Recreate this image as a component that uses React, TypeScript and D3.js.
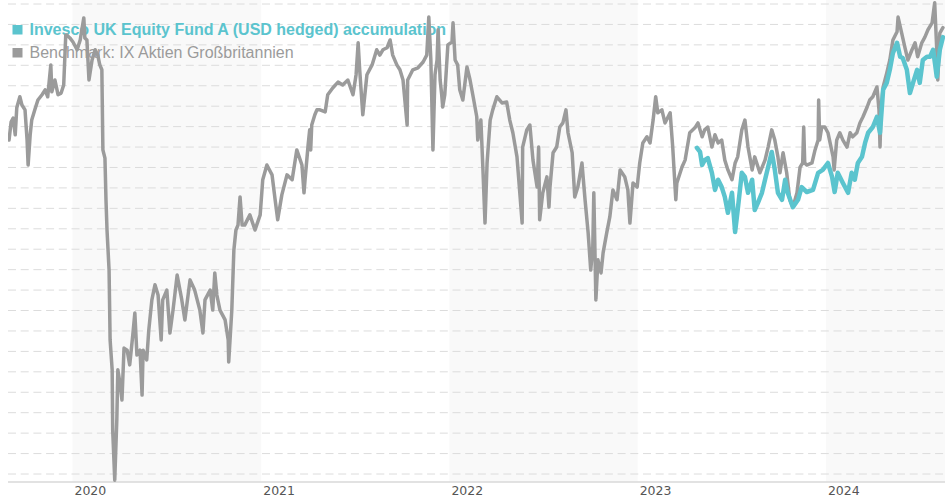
import React from "react";
import * as d3 from "d3";

const FUND_NAME = "Invesco UK Equity Fund A (USD hedged) accumulation";
const BENCH_NAME = "Benchmark: IX Aktien Großbritannien";
const yearLabels = ["2020", "2021", "2022", "2023", "2024"];
const shadedYears = ["2020", "2022", "2024"];
const gridValues = d3.range(0, 116, 5);
const dateDomain = ["2019-08-29", "2024-08-19"];

const benchmarkSeries: [string, number][] = [
  ["2019-08-31", 81.7], ["2019-09-04", 86.1], ["2019-09-08", 87.1], ["2019-09-12", 83.0],
  ["2019-09-15", 89.6], ["2019-09-21", 92.3], ["2019-09-25", 90.3], ["2019-10-01", 89.1],
  ["2019-10-05", 81.7], ["2019-10-07", 75.6], ["2019-10-11", 83.0], ["2019-10-14", 86.6],
  ["2019-10-20", 89.1], ["2019-10-26", 91.5], ["2019-11-03", 92.8], ["2019-11-09", 94.0],
  ["2019-11-14", 92.3], ["2019-11-20", 100.1], ["2019-11-22", 93.5], ["2019-11-28", 96.4],
  ["2019-12-04", 92.8], ["2019-12-10", 93.2], ["2019-12-15", 95.2], ["2019-12-19", 107.4],
  ["2019-12-21", 107.4], ["2019-12-27", 106.7], ["2020-01-02", 105.7], ["2020-01-10", 103.8],
  ["2020-01-16", 106.2], ["2020-01-23", 111.6], ["2020-01-25", 106.7], ["2020-01-29", 106.2],
  ["2020-02-02", 96.4], ["2020-02-08", 101.3], ["2020-02-14", 103.8], ["2020-02-19", 102.5],
  ["2020-02-23", 100.1], ["2020-02-27", 98.9], ["2020-02-29", 79.3], ["2020-03-04", 77.3],
  ["2020-03-06", 67.1], ["2020-03-08", 59.7], ["2020-03-12", 49.9], ["2020-03-14", 32.8],
  ["2020-03-18", 25.5], ["2020-03-19", 10.8], ["2020-03-23", -1.5], ["2020-03-27", 13.2],
  ["2020-03-29", 25.5], ["2020-04-02", 22.3], ["2020-04-06", 18.1], ["2020-04-10", 30.8],
  ["2020-04-16", 30.3], ["2020-04-21", 26.7], ["2020-04-27", 34.0], ["2020-05-01", 39.4],
  ["2020-05-05", 29.1], ["2020-05-11", 30.3], ["2020-05-15", 19.3], ["2020-05-17", 30.3],
  ["2020-05-24", 27.9], ["2020-05-28", 35.2], ["2020-06-03", 42.6], ["2020-06-09", 46.3],
  ["2020-06-15", 43.8], ["2020-06-21", 32.8], ["2020-06-24", 42.6], ["2020-07-02", 45.0],
  ["2020-07-08", 34.5], ["2020-07-14", 40.1], ["2020-07-22", 48.7], ["2020-07-31", 42.6],
  ["2020-08-06", 37.7], ["2020-08-16", 47.5], ["2020-08-25", 45.0], ["2020-09-04", 40.1],
  ["2020-09-10", 34.5], ["2020-09-14", 42.6], ["2020-09-24", 45.0], ["2020-09-29", 40.1],
  ["2020-10-03", 49.2], ["2020-10-07", 43.8], ["2020-10-13", 40.1], ["2020-10-23", 37.7],
  ["2020-10-29", 32.8], ["2020-10-30", 27.4], ["2020-11-05", 40.1], ["2020-11-09", 54.8],
  ["2020-11-13", 59.7], ["2020-11-17", 60.9], ["2020-11-21", 67.8], ["2020-11-25", 60.9],
  ["2020-11-30", 60.9], ["2020-12-10", 63.4], ["2020-12-20", 59.7], ["2020-12-30", 63.4],
  ["2021-01-04", 72.0], ["2021-01-12", 75.6], ["2021-01-22", 73.2], ["2021-01-28", 67.1],
  ["2021-02-02", 62.2], ["2021-02-10", 68.3], ["2021-02-20", 73.2], ["2021-03-02", 72.0],
  ["2021-03-11", 79.3], ["2021-03-21", 75.6], ["2021-03-25", 68.8], ["2021-03-27", 72.0],
  ["2021-04-02", 80.5], ["2021-04-05", 84.2], ["2021-04-07", 79.3], ["2021-04-09", 85.4],
  ["2021-04-15", 87.9], ["2021-04-19", 89.1], ["2021-04-25", 89.1], ["2021-05-05", 88.6],
  ["2021-05-10", 92.8], ["2021-05-20", 94.5], ["2021-05-30", 95.9], ["2021-06-08", 95.2],
  ["2021-06-18", 96.4], ["2021-06-28", 92.8], ["2021-07-04", 97.7], ["2021-07-08", 105.5],
  ["2021-07-11", 98.9], ["2021-07-17", 87.9], ["2021-07-25", 97.7], ["2021-08-04", 100.1],
  ["2021-08-13", 103.8], ["2021-08-19", 102.5], ["2021-08-25", 103.8], ["2021-09-02", 104.3],
  ["2021-09-08", 106.2], ["2021-09-13", 102.5], ["2021-09-21", 100.1], ["2021-09-27", 98.9],
  ["2021-10-03", 96.4], ["2021-10-11", 85.4], ["2021-10-12", 96.4], ["2021-10-22", 98.9],
  ["2021-11-01", 99.4], ["2021-11-11", 100.8], ["2021-11-18", 102.5], ["2021-11-22", 111.8],
  ["2021-11-26", 101.3], ["2021-11-30", 79.3], ["2021-12-04", 97.7], ["2021-12-08", 101.3],
  ["2021-12-10", 108.7], ["2021-12-14", 96.4], ["2021-12-17", 92.8], ["2021-12-19", 89.8],
  ["2021-12-23", 92.8], ["2021-12-29", 105.0], ["2022-01-06", 105.7], ["2022-01-08", 110.4],
  ["2022-01-12", 101.3], ["2022-01-17", 100.1], ["2022-01-21", 94.0], ["2022-01-27", 91.5],
  ["2022-02-04", 99.6], ["2022-02-10", 96.4], ["2022-02-16", 92.3], ["2022-02-23", 87.4],
  ["2022-02-25", 81.7], ["2022-03-03", 86.6], ["2022-03-07", 74.4], ["2022-03-11", 61.4],
  ["2022-03-15", 76.1], ["2022-03-21", 86.6], ["2022-03-26", 89.1], ["2022-04-03", 92.3],
  ["2022-04-13", 90.8], ["2022-04-22", 91.0], ["2022-04-28", 86.6], ["2022-05-04", 83.5],
  ["2022-05-12", 77.6], ["2022-05-16", 71.2], ["2022-05-22", 61.4], ["2022-05-23", 80.0],
  ["2022-05-31", 84.2], ["2022-06-06", 85.4], ["2022-06-12", 76.8], ["2022-06-20", 70.2],
  ["2022-06-23", 80.0], ["2022-06-25", 62.2], ["2022-07-01", 68.8], ["2022-07-09", 72.7],
  ["2022-07-13", 65.3], ["2022-07-15", 70.2], ["2022-07-21", 78.6], ["2022-07-28", 80.0],
  ["2022-08-03", 84.9], ["2022-08-09", 85.9], ["2022-08-15", 89.1], ["2022-08-19", 83.5],
  ["2022-08-27", 78.6], ["2022-09-01", 67.8], ["2022-09-07", 70.2], ["2022-09-15", 76.1],
  ["2022-09-21", 67.1], ["2022-09-27", 59.0], ["2022-10-02", 49.9], ["2022-10-06", 55.6],
  ["2022-10-08", 68.8], ["2022-10-12", 42.6], ["2022-10-16", 52.4], ["2022-10-22", 49.2],
  ["2022-10-26", 54.1], ["2022-11-02", 59.0], ["2022-11-08", 62.9], ["2022-11-14", 69.5],
  ["2022-11-22", 67.1], ["2022-11-28", 74.4], ["2022-12-07", 72.7], ["2022-12-13", 69.5],
  ["2022-12-17", 61.4], ["2022-12-23", 71.2], ["2022-12-31", 70.2], ["2023-01-05", 76.1],
  ["2023-01-11", 81.0], ["2023-01-19", 82.5], ["2023-01-25", 81.0], ["2023-01-31", 86.6],
  ["2023-02-05", 92.3], ["2023-02-09", 88.4], ["2023-02-17", 89.1], ["2023-02-23", 85.9],
  ["2023-03-05", 88.4], ["2023-03-10", 80.0], ["2023-03-16", 67.1], ["2023-03-18", 71.2],
  ["2023-03-28", 75.1], ["2023-04-03", 76.8], ["2023-04-12", 83.5], ["2023-04-22", 84.7],
  ["2023-04-28", 85.9], ["2023-05-06", 82.5], ["2023-05-11", 84.2], ["2023-05-17", 84.9],
  ["2023-05-25", 80.0], ["2023-05-31", 83.0], ["2023-06-06", 81.0], ["2023-06-13", 81.7],
  ["2023-06-19", 76.8], ["2023-06-25", 74.4], ["2023-07-03", 72.0], ["2023-07-09", 76.1],
  ["2023-07-14", 77.6], ["2023-07-22", 84.2], ["2023-07-28", 86.6], ["2023-08-03", 80.0],
  ["2023-08-11", 74.4], ["2023-08-16", 77.6], ["2023-08-26", 73.7], ["2023-09-05", 76.8],
  ["2023-09-11", 80.0], ["2023-09-18", 84.2], ["2023-09-24", 81.7], ["2023-09-30", 77.6],
  ["2023-10-04", 73.7], ["2023-10-10", 78.6], ["2023-10-17", 73.7], ["2023-10-23", 67.1],
  ["2023-10-29", 65.3], ["2023-11-06", 68.8], ["2023-11-12", 75.1], ["2023-11-17", 76.1],
  ["2023-11-19", 84.9], ["2023-11-21", 76.1], ["2023-11-25", 75.6], ["2023-12-05", 76.1],
  ["2023-12-11", 79.3], ["2023-12-17", 81.7], ["2023-12-18", 91.5], ["2023-12-20", 81.7],
  ["2023-12-24", 84.9], ["2023-12-30", 84.9], ["2024-01-05", 83.5], ["2024-01-15", 77.6],
  ["2024-01-17", 74.4], ["2024-01-22", 81.7], ["2024-01-28", 83.5], ["2024-02-03", 81.7],
  ["2024-02-11", 80.0], ["2024-02-17", 83.5], ["2024-02-22", 82.5], ["2024-03-01", 83.5],
  ["2024-03-07", 85.9], ["2024-03-13", 87.4], ["2024-03-21", 89.8], ["2024-03-26", 91.5],
  ["2024-04-01", 92.3], ["2024-04-09", 94.7], ["2024-04-13", 89.1], ["2024-04-15", 80.0],
  ["2024-04-17", 89.1], ["2024-04-21", 94.7], ["2024-04-28", 98.1], ["2024-05-04", 101.3],
  ["2024-05-10", 106.2], ["2024-05-18", 108.2], ["2024-05-20", 111.8], ["2024-05-27", 107.9],
  ["2024-06-02", 104.5], ["2024-06-08", 101.3], ["2024-06-16", 103.8], ["2024-06-22", 105.5],
  ["2024-06-27", 102.1], ["2024-07-05", 105.5], ["2024-07-11", 106.9], ["2024-07-17", 108.7],
  ["2024-07-25", 110.4], ["2024-07-30", 115.3], ["2024-08-03", 103.8], ["2024-08-05", 96.4],
  ["2024-08-09", 107.9], ["2024-08-15", 109.2],
];

const fundSeries: [string, number][] = [
  ["2023-04-26", 79.8], ["2023-05-02", 78.8], ["2023-05-06", 75.6], ["2023-05-11", 76.8],
  ["2023-05-17", 77.3], ["2023-05-25", 73.7], ["2023-05-31", 69.5], ["2023-06-06", 72.0],
  ["2023-06-13", 70.2], ["2023-06-19", 67.8], ["2023-06-25", 63.9], ["2023-07-03", 68.8],
  ["2023-07-09", 59.2], ["2023-07-14", 64.6], ["2023-07-22", 73.7], ["2023-07-28", 72.7],
  ["2023-08-03", 68.8], ["2023-08-11", 72.0], ["2023-08-16", 64.6], ["2023-08-22", 66.3],
  ["2023-08-30", 68.8], ["2023-09-05", 72.0], ["2023-09-11", 75.1], ["2023-09-18", 78.8],
  ["2023-09-24", 74.4], ["2023-09-30", 68.8], ["2023-10-08", 67.1], ["2023-10-14", 72.0],
  ["2023-10-19", 68.8], ["2023-10-29", 65.3], ["2023-11-08", 67.1], ["2023-11-15", 70.2],
  ["2023-11-25", 69.0], ["2023-12-07", 69.5], ["2023-12-17", 73.7], ["2023-12-26", 74.4],
  ["2024-01-05", 76.1], ["2024-01-13", 72.7], ["2024-01-18", 69.0], ["2024-01-24", 73.7],
  ["2024-02-03", 71.2], ["2024-02-13", 68.8], ["2024-02-20", 73.7], ["2024-02-26", 72.0],
  ["2024-03-03", 76.1], ["2024-03-11", 77.6], ["2024-03-17", 81.0], ["2024-03-23", 83.5],
  ["2024-04-01", 84.9], ["2024-04-09", 87.4], ["2024-04-15", 83.5], ["2024-04-21", 94.0],
  ["2024-04-28", 95.7], ["2024-05-04", 98.9], ["2024-05-10", 103.0], ["2024-05-18", 105.5],
  ["2024-05-24", 102.1], ["2024-05-29", 101.8], ["2024-06-06", 98.9], ["2024-06-12", 93.2],
  ["2024-06-18", 95.7], ["2024-06-26", 98.9], ["2024-07-01", 95.7], ["2024-07-07", 101.3],
  ["2024-07-15", 102.1], ["2024-07-21", 102.1], ["2024-07-27", 103.8], ["2024-08-03", 97.2],
  ["2024-08-09", 103.8], ["2024-08-15", 106.9],
];

const parse = d3.timeParse("%Y-%m-%d");

export default function App() {
  const W = 945;
  const H = 500;
  const left = 8;
  const right = 945;
  const bottom = 482;

  const x = d3
    .scaleTime()
    .domain([parse(dateDomain[0]) as Date, parse(dateDomain[1]) as Date])
    .range([left, right]);
  const y = d3.scaleLinear().domain([0, 115]).range([474, 4]);

  const line = d3
    .line<[string, number]>()
    .x((d) => x(parse(d[0]) as Date))
    .y((d) => y(d[1]))
    .curve(d3.curveLinear);

  const yearStart = (yr: string) => x(parse(`${yr}-01-01`) as Date);
  const yearEnd = (yr: string) =>
    Math.min(right, x(parse(`${+yr + 1}-01-01`) as Date));

  return (
    <div style={{ position: "absolute", left: 0, top: 0 }}>
      <svg width={W} height={H} style={{ display: "block", background: "#fff" }}>
        <defs>
          <clipPath id="plot">
            <rect x={left} y={0} width={right - left} height={bottom} />
          </clipPath>
        </defs>
        {shadedYears.map((yr) => (
          <rect
            key={yr}
            x={yearStart(yr)}
            y={0}
            width={yearEnd(yr) - yearStart(yr)}
            height={bottom}
            fill="#f9f9f9"
          />
        ))}
        {gridValues.map((v) => (
          <line
            key={v}
            x1={left}
            x2={right}
            y1={y(v)}
            y2={y(v)}
            stroke="#dcdcdc"
            strokeWidth={1}
            strokeDasharray="8,4.7"
          />
        ))}
        <line x1={left} x2={right} y1={bottom} y2={bottom} stroke="#d8d8d8" strokeWidth={1.5} />
        {yearLabels.map((yr) => (
          <text
            key={yr}
            x={yearStart(yr) + 2}
            y={494.5}
            fontFamily="DejaVu Sans, sans-serif"
            fontSize={12.5}
            fill="#555"
          >
            {yr}
          </text>
        ))}
        <g fontFamily="'Liberation Sans', Arial, sans-serif" fontSize={16}>
          <rect x={12.5} y={25} width={10} height={9.5} fill="#5bc4ce" />
          <text x={29.5} y={35} fill="#5bc4ce" fontWeight="bold">
            {FUND_NAME}
          </text>
          <rect x={12.5} y={48} width={10} height={9.5} fill="#9b9b9b" />
          <text x={29.5} y={58.3} fill="#9b9b9b">
            {BENCH_NAME}
          </text>
        </g>
        <g clipPath="url(#plot)">
          <path
            d={line(benchmarkSeries) || ""}
            fill="none"
            stroke="#9b9b9b"
            strokeWidth={3.5}
            strokeLinejoin="round"
            strokeLinecap="round"
          />
          <path
            d={line(fundSeries) || ""}
            fill="none"
            stroke="#5bc4ce"
            strokeWidth={4.5}
            strokeLinejoin="round"
            strokeLinecap="round"
          />
        </g>
      </svg>
    </div>
  );
}
